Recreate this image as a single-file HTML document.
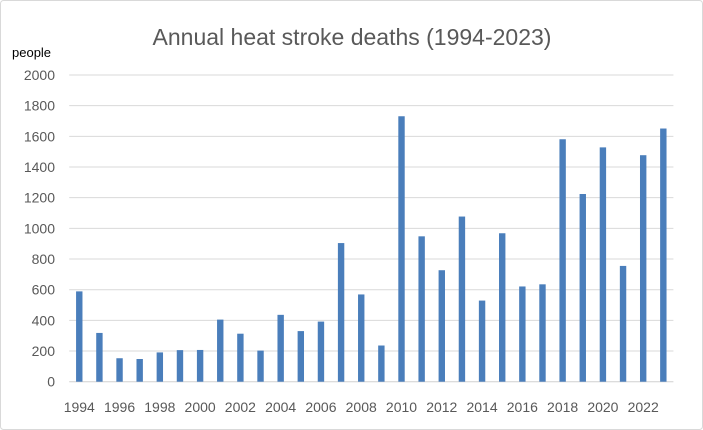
<!DOCTYPE html>
<html><head><meta charset="utf-8"><style>
html,body{margin:0;padding:0;background:#fff;}
svg{display:block;font-family:"Liberation Sans",Calibri,sans-serif;}
</style></head><body>
<svg id="chart" width="703" height="430" viewBox="0 0 703 430">
<rect x="0.5" y="0.5" width="702" height="429" rx="3" fill="#fff" stroke="#d9d9d9"/>
<text x="352" y="45" text-anchor="middle" font-size="23" fill="#595959">Annual heat stroke deaths (1994-2023)</text>
<text x="12" y="57" font-size="13" fill="#000">people</text>
<g id="grid"></g><g id="bars"></g><g id="labels"></g>
</svg>
<script>
const years=[1994,1995,1996,1997,1998,1999,2000,2001,2002,2003,2004,2005,2006,2007,2008,2009,2010,2011,2012,2013,2014,2015,2016,2017,2018,2019,2020,2021,2022,2023];
const deaths=[589,318,153,148,191,206,207,405,313,203,436,330,392,904,569,236,1731,948,727,1077,529,968,621,635,1581,1224,1528,755,1477,1651];
const yTicks=[0,200,400,600,800,1000,1200,1400,1600,1800,2000];
const NS="http://www.w3.org/2000/svg";
const left=69.2,right=673.4,y0=381.7,yTop=75;
const yScale=v=>y0-(v/2000)*(y0-yTop);
const step=(right-left)/years.length;
const xScale=i=>left+step*(i+0.5);
const grid=document.getElementById('grid'),bars=document.getElementById('bars'),labels=document.getElementById('labels');
yTicks.forEach(t=>{
 const l=document.createElementNS(NS,'line');
 l.setAttribute('x1',left);l.setAttribute('x2',right);
 l.setAttribute('y1',yScale(t));l.setAttribute('y2',yScale(t));
 l.setAttribute('stroke',t===0?'#d0d0d0':'#d9d9d9');l.setAttribute('stroke-width','1');
 
 
 grid.appendChild(l);
 const tx=document.createElementNS(NS,'text');
 tx.setAttribute('x',55);tx.setAttribute('y',yScale(t)+5);
 tx.setAttribute('text-anchor','end');tx.setAttribute('font-size','14');tx.setAttribute('fill','#595959');
 tx.textContent=t;
 
 
 labels.appendChild(tx);
});
deaths.forEach((v,i)=>{
 const r=document.createElementNS(NS,'rect');
 const w=6.4;
 r.setAttribute('x',xScale(i)-w/2);r.setAttribute('y',yScale(v));
 r.setAttribute('width',w);r.setAttribute('height',y0-yScale(v));
 r.setAttribute('fill','#4a7ebb');
 
 
 bars.appendChild(r);
});
years.forEach((y,i)=>{
 if(i%2!==0)return;
 const tx=document.createElementNS(NS,'text');
 tx.setAttribute('x',xScale(i));tx.setAttribute('y',412);
 tx.setAttribute('text-anchor','middle');tx.setAttribute('font-size','14');tx.setAttribute('fill','#595959');
 tx.textContent=y;
 
 
 labels.appendChild(tx);
});
</script>
</body></html>
